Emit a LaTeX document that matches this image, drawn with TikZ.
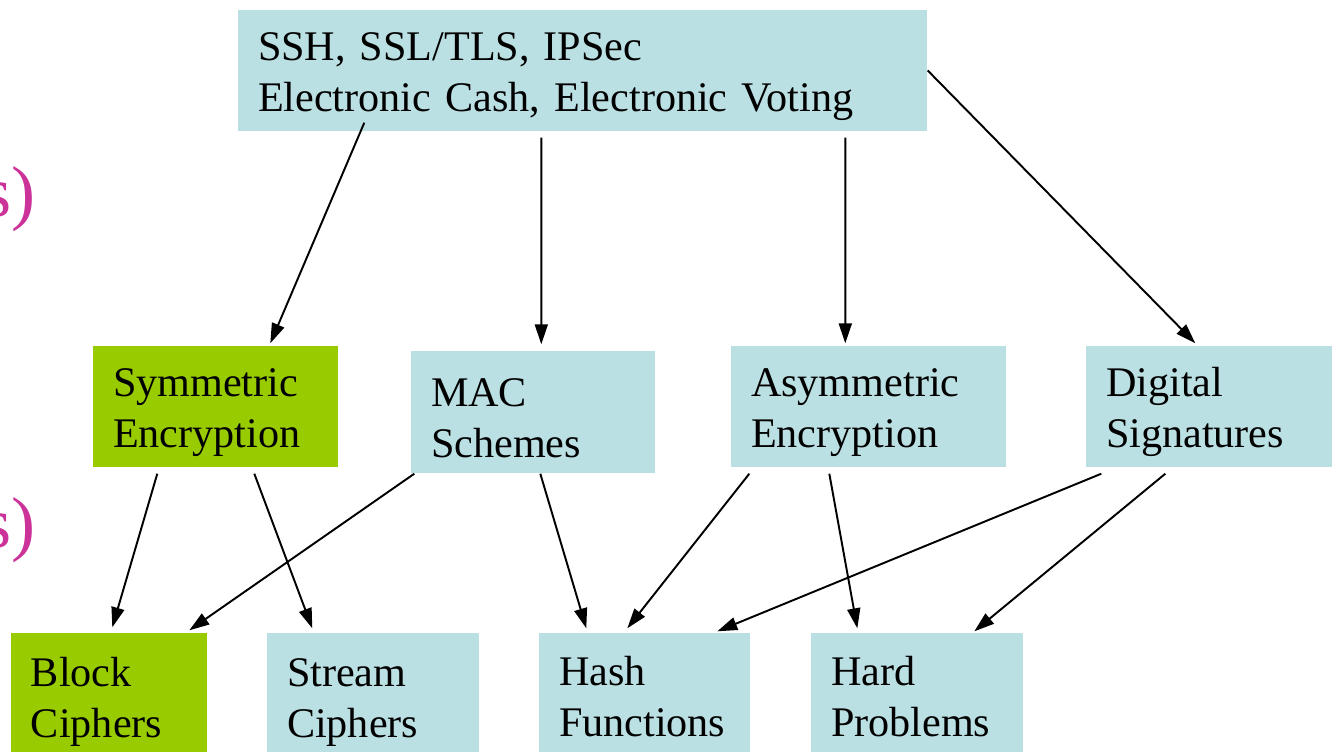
\documentclass[tikz,border=0pt]{standalone}
\usepackage{fontspec}
\setmainfont{Liberation Serif}
\usetikzlibrary{arrows.meta}
\pgfdeclarelayer{edgelayer}
\pgfdeclarelayer{nodelayer}
\pgfsetlayers{nodelayer,edgelayer,main}
\definecolor{boxblue}{RGB}{187,224,227}
\definecolor{boxgreen}{RGB}{153,204,0}
\definecolor{sidepink}{RGB}{204,51,153}
\tikzstyle{topic}=[rectangle,fill=boxblue,inner xsep=0.2cm,inner ysep=0pt,align=left,text height=0.4cm,font=\fontsize{12}{14.5}\selectfont]
\tikzstyle{basic}=[topic,fill=boxgreen]
\tikzstyle{side}=[text=sidepink,inner sep=0pt,font=\fontsize{20.5}{24}\selectfont]
\tikzstyle{dependency}=[-{Triangle[length=0.2cm,width=0.13cm]},draw=black,line width=0.55pt]

\begin{document}
\begin{tikzpicture}
	\useasboundingbox (0,0) rectangle (13.32,-7.51);
	\begin{pgfonlayer}{nodelayer}
		\node [style=side, anchor=base east] (s0) at (0.36, -2.17) {s)};
		\node [style=side, anchor=base east] (s1) at (0.36, -5.47) {s)};
		\node [style=topic, text width=6.49cm, minimum height=1.21cm] (0) at (5.825, -0.705) {SSH, SSL/TLS, IPSec\\Electronic Cash, Electronic Voting};
		\node [style=basic, text width=2.05cm, minimum height=1.21cm] (1) at (2.155, -4.065) {Symmetric\\Encryption};
		\node [style=topic, text width=2.04cm, minimum height=1.22cm] (2) at (5.33, -4.12) {MAC\\Schemes};
		\node [style=topic, text width=2.35cm, minimum height=1.21cm] (3) at (8.685, -4.065) {Asymmetric\\Encryption};
		\node [style=topic, text width=2.06cm, minimum height=1.21cm] (4) at (12.09, -4.065) {Digital\\Signatures};
		\node [style=basic, text width=1.56cm, minimum height=1.26cm] (5) at (1.09, -6.96) {Block\\Ciphers};
		\node [style=topic, text width=1.72cm, minimum height=1.26cm] (6) at (3.73, -6.96) {Stream\\Ciphers};
		\node [style=topic, text width=1.71cm, minimum height=1.26cm, text height=0.31cm] (7) at (6.445, -6.96) {Hash\\Functions};
		\node [style=topic, text width=1.72cm, minimum height=1.26cm, text height=0.31cm] (8) at (9.17, -6.96) {Hard\\Problems};
	\end{pgfonlayer}
	\begin{pgfonlayer}{edgelayer}
		\draw [style=dependency] ([xshift=1.27cm, yshift=0.09cm]0.south west) to ([xshift=1.78cm, yshift=0.02cm]1.north west);
		\draw [style=dependency] ([xshift=3.04cm, yshift=-0.06cm]0.south west) to ([xshift=1.31cm, yshift=0.06cm]2.north west);
		\draw [style=dependency] ([xshift=6.08cm, yshift=-0.06cm]0.south west) to ([xshift=1.15cm, yshift=0.02cm]3.north west);
		\draw [style=dependency] (0.east) to ([xshift=1.10cm, yshift=0.02cm]4.north west);
		\draw [style=dependency] ([xshift=0.65cm, yshift=-0.06cm]1.south west) to ([xshift=1.02cm, yshift=0.05cm]5.north west);
		\draw [style=dependency] ([xshift=1.62cm, yshift=-0.06cm]1.south west) to ([xshift=0.46cm, yshift=0.04cm]6.north west);
		\draw [style=dependency] ([xshift=0.04cm]2.south west) to ([xshift=1.79cm, yshift=0.02cm]5.north west);
		\draw [style=dependency] ([xshift=1.30cm]2.south west) to ([xshift=0.48cm, yshift=0.04cm]7.north west);
		\draw [style=dependency] ([xshift=0.19cm, yshift=-0.06cm]3.south west) to ([xshift=0.89cm, yshift=0.04cm]7.north west);
		\draw [style=dependency] ([xshift=0.99cm, yshift=-0.06cm]3.south west) to ([xshift=0.47cm, yshift=0.04cm]8.north west);
		\draw [style=dependency] ([xshift=0.16cm, yshift=-0.06cm]4.south west) to ([xshift=1.79cm, yshift=0.01cm]7.north west);
		\draw [style=dependency] ([xshift=0.80cm, yshift=-0.06cm]4.south west) to ([xshift=1.64cm, yshift=0.01cm]8.north west);
	\end{pgfonlayer}
\end{tikzpicture}
\end{document}
